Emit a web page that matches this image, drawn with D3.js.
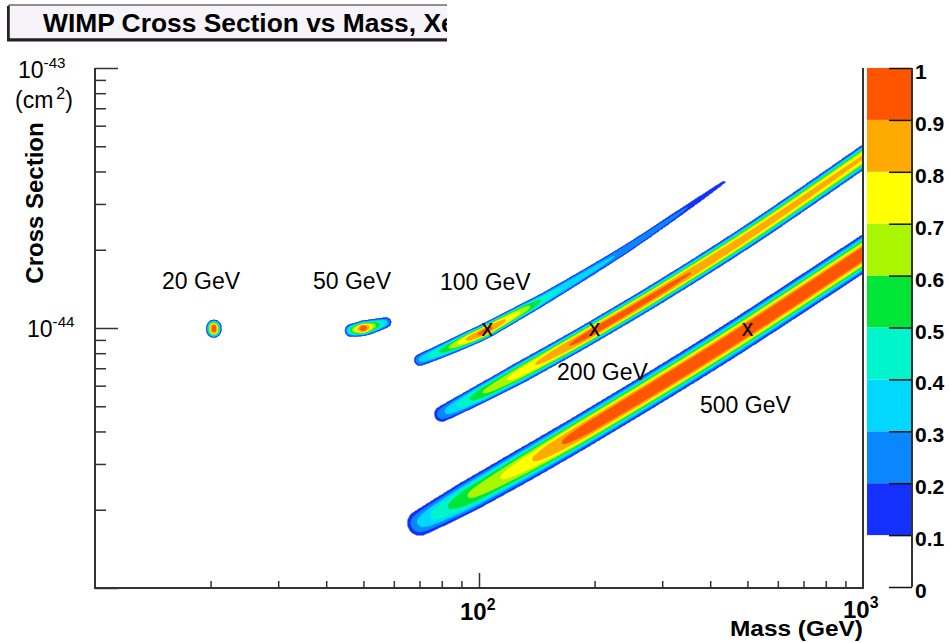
<!DOCTYPE html>
<html lang="en">
<head>
<meta charset="UTF-8">
<title>WIMP Cross Section vs Mass</title>
<style>
  body { margin: 0; background: #fff; }
  svg text { font-family: 'Liberation Sans', Arial, sans-serif; }
</style>
</head>
<body>
<svg id="svg" width="950" height="643"></svg>
<script src="https://d3js.org/d3.v7.min.js"></script>
<script>
// likelihood ridges
// each point: [mass GeV, cross section cm2, peak value, half width in decades]
const blob20 = [
  [20.4, 1.007e-44, 0.95, 0.030],
  [20.4, 9.81e-45, 0.95, 0.030]
]
const blob50 = [
  [46.4, 9.78e-45, 0.45, 0.025],
  [49.9, 9.97e-45, 1.0, 0.031],
  [53.0, 1.018e-44, 0.65, 0.028],
  [57.3, 1.050e-44, 0.3, 0.021]
]
const blob100 = [
  [70.2, 7.53e-45, 0.3, 0.024],
  [81.5, 8.27e-45, 0.55, 0.028],
  [94.7, 9.14e-45, 0.85, 0.031],
  [104.9, 9.81e-45, 0.95, 0.031],
  [127.9, 1.152e-44, 0.7, 0.027],
  [155.9, 1.358e-44, 0.42, 0.023],
  [240.1, 2.004e-44, 0.28, 0.017],
  [350.2, 2.920e-44, 0.2, 0.012],
  [434.6, 3.644e-44, 0.13, 0.006]
]
const blob200 = [
  [80.1, 4.67e-45, 0.25, 0.031],
  [102.4, 5.64e-45, 0.6, 0.038],
  [127.9, 6.73e-45, 0.75, 0.042],
  [162.5, 8.19e-45, 0.88, 0.042],
  [201.7, 9.83e-45, 0.95, 0.042],
  [308.7, 1.431e-44, 0.92, 0.042],
  [539.1, 2.420e-44, 0.85, 0.042],
  [1074.6, 4.885e-44, 0.8, 0.042]
]
const blob500 = [
  [70.2, 1.778e-45, 0.3, 0.05],
  [93.6, 2.245e-45, 0.6, 0.062],
  [131.8, 2.988e-45, 0.78, 0.065],
  [157.8, 3.483e-45, 0.88, 0.065],
  [194.6, 4.176e-45, 0.96, 0.065],
  [308.7, 6.304e-45, 1.0, 0.065],
  [498.8, 9.83e-45, 1.0, 0.065],
  [1074.6, 2.067e-44, 1.0, 0.065]
]
const blobs = [blob20, blob50, blob100, blob200, blob500]

// annotations
const labelText = ['20 GeV', '50 GeV', '100 GeV', '200 GeV', '500 GeV']
const labelMass = [14.95, 36.96, 79.1, 159.7, 376.3]
const labelXs = [1.416e-44, 1.416e-44, 1.404e-44, 6.33e-45, 4.72e-45]
const markerMass = [105, 200, 500]
const markerXs = 1e-44

// colour levels (ROOT style palette)
const levels = [0.1, 0.2, 0.3, 0.4, 0.5, 0.6, 0.7, 0.8, 0.9]
const levelColors = ['#1430ff', '#0a86ff', '#00d8ff', '#00f5cc', '#00e536',
                     '#aaf500', '#ffff00', '#ffaa00', '#ff5500']
const barTicks = [0, 0.1, 0.2, 0.3, 0.4, 0.5, 0.6, 0.7, 0.8, 0.9, 1]

const plot = { left: 95, right: 863, top: 68, bottom: 588 }

const xScale = d3.scaleLog().domain([10, 1000]).range([plot.left, plot.right])
const yScale = d3.scaleLog().domain([1e-45, 1e-43]).range([plot.bottom, plot.top])
const colorScale = d3.scaleThreshold().domain(levels.slice(1)).range(levelColors)

const svg = d3.select('#svg')

// ---- likelihood surface on a pixel grid ----
const nx = plot.right - plot.left
const ny = plot.bottom - plot.top
const grid = new Float64Array(nx * ny)
const shape = 3
const decadePx = yScale(1e-44) - yScale(1e-43)

// smooth the ridge through its points (catmull-rom), so the band has no kinks
function smoothRidge(pts, steps) {
  if (pts.length < 3) return pts
  const out = []
  const cr = (a, b, c, d, t) => 0.5 * (2 * b + (c - a) * t + (2 * a - 5 * b + 4 * c - d) * t * t + (3 * b - a - 3 * c + d) * t * t * t)
  for (let i = 0; i < pts.length - 1; i++) {
    const p0 = pts[i - 1] || pts[i], p1 = pts[i], p2 = pts[i + 1], p3 = pts[i + 2] || pts[i + 1]
    for (let s = 0; s < steps; s++) {
      const t = s / steps
      out.push({
        x: cr(p0.x, p1.x, p2.x, p3.x, t),
        y: cr(p0.y, p1.y, p2.y, p3.y, t),
        peak: p1.peak + t * (p2.peak - p1.peak),
        w: p1.w + t * (p2.w - p1.w)
      })
    }
  }
  out.push(pts[pts.length - 1])
  return out
}

blobs.forEach(blob => {
  const raw = blob.map(d => ({ x: xScale(d[0]), y: yScale(d[1]), peak: d[2], w: d[3] * decadePx }))
  const pts = smoothRidge(raw, 10)
  const segs = pts.length === 1 ? [[pts[0], pts[0]]] : d3.pairs(pts)
  segs.forEach(([a, b]) => {
    const wmax = Math.max(a.w, b.w) + 1
    const i0 = Math.max(0, Math.floor(Math.min(a.x, b.x) - wmax - plot.left))
    const i1 = Math.min(nx - 1, Math.ceil(Math.max(a.x, b.x) + wmax - plot.left))
    const j0 = Math.max(0, Math.floor(Math.min(a.y, b.y) - wmax - plot.top))
    const j1 = Math.min(ny - 1, Math.ceil(Math.max(a.y, b.y) + wmax - plot.top))
    const dx = b.x - a.x, dy = b.y - a.y
    const len2 = dx * dx + dy * dy
    for (let j = j0; j <= j1; j++) {
      const py = plot.top + j + 0.5
      for (let i = i0; i <= i1; i++) {
        const px = plot.left + i + 0.5
        let t = len2 ? ((px - a.x) * dx + (py - a.y) * dy) / len2 : 0
        t = Math.max(0, Math.min(1, t))
        const qx = a.x + t * dx, qy = a.y + t * dy
        const d = Math.hypot(px - qx, py - qy)
        const w = a.w + t * (b.w - a.w)
        if (d >= w) continue
        const peak = a.peak + t * (b.peak - a.peak)
        const v = peak * Math.exp(-Math.log(10 * peak) * Math.pow(d / w, shape))
        const k = j * nx + i
        if (v > grid[k]) grid[k] = v
      }
    }
  })
})

const contours = d3.contours().size([nx, ny]).thresholds(levels)(grid)
const geo = d3.geoPath(d3.geoIdentity().translate([plot.left, plot.top]))

svg.append('g')
  .selectAll('path')
  .data(contours)
  .join('path')
  .attr('d', geo)
  .attr('fill', d => colorScale(d.value))

// ---- axes ----
const axisColor = '#333'
const isMajor = v => Math.abs(Math.log10(v) - Math.round(Math.log10(v))) < 1e-6

const yTicks = yScale.ticks()
const yAxis = svg.append('g').attr('transform', `translate(${plot.left},0)`)
yAxis.append('g')
  .call(d3.axisRight(yScale).tickValues(yTicks.filter(v => !isMajor(v))).tickSize(11).tickFormat(() => ''))
yAxis.append('g')
  .call(d3.axisRight(yScale).tickValues(yTicks.filter(isMajor)).tickSize(23).tickFormat(() => ''))
yAxis.selectAll('.domain').remove()

const xTicks = xScale.ticks()
const xAxis = svg.append('g').attr('transform', `translate(0,${plot.bottom})`)
xAxis.append('g')
  .call(d3.axisTop(xScale).tickValues(xTicks.filter(v => !isMajor(v))).tickSize(7).tickFormat(() => ''))
xAxis.append('g')
  .call(d3.axisTop(xScale).tickValues([100]).tickSize(15).tickFormat(() => ''))
xAxis.selectAll('.domain').remove()

svg.selectAll('.tick line').attr('stroke', axisColor).attr('stroke-width', 1.5)

// frame: left, bottom, right
svg.append('path')
  .attr('d', `M${plot.left},${plot.top}V${plot.bottom}H${plot.right}V${plot.top}`)
  .attr('fill', 'none')
  .attr('stroke', axisColor)
  .attr('stroke-width', 2)

// ---- tick labels ----
function powerLabel(x, y, exp, size, weight, anchor) {
  const t = svg.append('text')
    .attr('x', x).attr('y', y)
    .attr('font-size', size)
    .attr('font-weight', weight)
    .attr('text-anchor', anchor || 'start')
  t.append('tspan').text('10')
  t.append('tspan').attr('dy', -size * 0.42).attr('font-size', size * 0.66).text(exp)
  return t
}
powerLabel(18, 78, '-43', 23, 'normal')
powerLabel(27, 337, '-44', 23, 'normal')
powerLabel(xScale(100) - 19, 620, '2', 24, 'bold')
powerLabel(xScale(1000) - 20, 618, '3', 24, 'bold')

const cm = svg.append('text').attr('x', 15).attr('y', 108).attr('font-size', 23)
cm.append('tspan').text('(cm')
cm.append('tspan').attr('dx', 3).attr('dy', -9).attr('font-size', 16).text('2')
cm.append('tspan').attr('dy', 9).text(')')

svg.append('text')
  .attr('transform', 'translate(43,203) rotate(-90)')
  .attr('text-anchor', 'middle')
  .attr('font-size', 24)
  .attr('font-weight', 'bold')
  .text('Cross Section')

svg.append('text')
  .attr('x', plot.right).attr('y', 636)
  .attr('text-anchor', 'end')
  .attr('font-size', 22)
  .attr('font-weight', 'bold')
  .attr('textLength', 133)
  .attr('lengthAdjust', 'spacingAndGlyphs')
  .text('Mass (GeV)')

// ---- annotations ----
svg.append('g')
  .selectAll('text')
  .data(labelText)
  .join('text')
  .attr('x', (d, i) => xScale(labelMass[i]))
  .attr('y', (d, i) => yScale(labelXs[i]))
  .attr('font-size', 23)
  .text(d => d)

svg.append('g')
  .selectAll('text')
  .data(markerMass)
  .join('text')
  .attr('x', d => xScale(d))
  .attr('y', yScale(markerXs) + 8)
  .attr('text-anchor', 'middle')
  .attr('font-size', 23)
  .text('x')

// ---- colour bar ----
const cScale = d3.scaleLinear().domain([0, 1]).range([plot.bottom - 1, plot.top])
const bar = { x: 867, width: 45 }

svg.append('g')
  .selectAll('rect')
  .data(levels)
  .join('rect')
  .attr('x', bar.x)
  .attr('y', d => cScale(d + 0.1))
  .attr('width', bar.width)
  .attr('height', d => cScale(d) - cScale(d + 0.1))
  .attr('fill', (d, i) => levelColors[i])

const barAxis = svg.append('g').attr('transform', `translate(${bar.x + bar.width},0)`)
barAxis.call(d3.axisLeft(cScale).tickValues(barTicks).tickSize(23).tickFormat(() => ''))
barAxis.select('.domain').remove()
barAxis.selectAll('.tick line').attr('stroke', '#111').attr('stroke-width', 1.5)
barAxis.append('line')
  .attr('y1', cScale(1)).attr('y2', cScale(0))
  .attr('stroke', axisColor).attr('stroke-width', 2)

svg.append('g')
  .selectAll('text')
  .data(barTicks)
  .join('text')
  .attr('x', bar.x + bar.width + 3)
  .attr('y', d => cScale(d) + 11)
  .attr('font-size', 21)
  .attr('font-weight', 'bold')
  .text(d => d3.format('.1~f')(d))

// ---- title box ----
const titleG = svg.append('g')
svg.append('clipPath').attr('id', 'titleClip')
  .append('rect').attr('x', 7).attr('y', 4).attr('width', 440).attr('height', 38)
titleG.attr('clip-path', 'url(#titleClip)')
titleG.append('rect')
  .attr('x', 9).attr('y', 5).attr('width', 440).attr('height', 34)
  .attr('fill', '#f6f4f9').attr('stroke', '#222').attr('stroke-width', 1)
titleG.append('path')
  .attr('d', 'M8,6V40H447')
  .attr('fill', 'none').attr('stroke', '#222').attr('stroke-width', 3)
titleG.append('text')
  .attr('x', 43).attr('y', 32)
  .attr('font-size', 25)
  .attr('font-weight', 'bold')
  .attr('textLength', 420)
  .attr('lengthAdjust', 'spacingAndGlyphs')
  .text('WIMP Cross Section vs Mass, Xe, ')
</script>
</body>
</html>
